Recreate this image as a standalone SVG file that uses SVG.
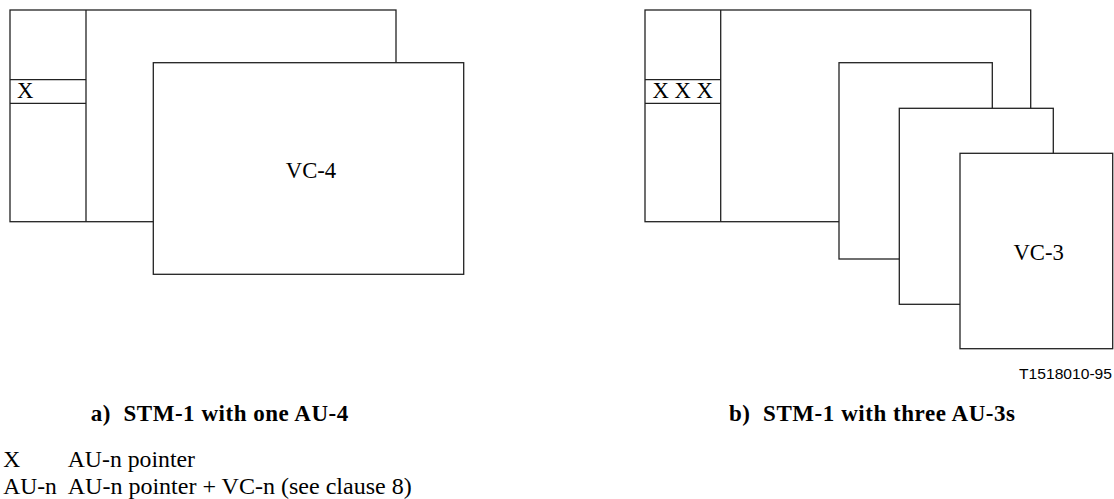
<svg xmlns="http://www.w3.org/2000/svg" width="1114" height="499" viewBox="0 0 1114 499">
<style>
.box{fill:#fff;stroke:#222;stroke-width:1.3}
.ln{fill:none;stroke:#222;stroke-width:1.3}
.t{font-family:"Liberation Serif","Times New Roman",serif;font-size:22.7px;fill:#000}
.lg{font-family:"Liberation Serif","Times New Roman",serif;font-size:23.5px;fill:#000}
.cap{font-family:"Liberation Serif","Times New Roman",serif;font-size:23px;font-weight:bold;fill:#000}
.ref{font-family:"Liberation Sans",Arial,sans-serif;font-size:15px;fill:#000}
</style>
<rect width="1114" height="499" fill="#fff"/>
<g id="stm1-a">
<rect class="box" x="10" y="10" width="386" height="211.7"/>
<line class="ln" x1="86" y1="10" x2="86" y2="221.7"/>
<line class="ln" x1="10" y1="79.7" x2="86" y2="79.7"/>
<line class="ln" x1="10" y1="103.3" x2="86" y2="103.3"/>
<text class="t" x="17" y="97.7">X</text>
</g>
<g id="vc4">
<rect class="box" x="153.3" y="62.7" width="310.4" height="211.6"/>
<text class="t" x="311" y="177.7" text-anchor="middle">VC-4</text>
</g>
<g id="stm1-b">
<rect class="box" x="645" y="10" width="385.7" height="211.7"/>
<line class="ln" x1="720.7" y1="10" x2="720.7" y2="221.7"/>
<line class="ln" x1="645" y1="79.7" x2="720.7" y2="79.7"/>
<line class="ln" x1="645" y1="103.3" x2="720.7" y2="103.3"/>
<text class="t" x="652.5" y="97.7">X X X</text>
</g>
<g id="vc3-1">
<rect class="box" x="839" y="62.7" width="153.3" height="196.3"/>
</g>
<g id="vc3-2">
<rect class="box" x="899.3" y="108.3" width="154" height="196"/>
</g>
<g id="vc3-3">
<rect class="box" x="960" y="153.3" width="152.7" height="195.4"/>
<text class="t" x="1038.7" y="260" text-anchor="middle">VC-3</text>
</g>
<g id="connectors"></g>
<g id="labels">
<text class="ref" x="1019" y="379" textLength="93" lengthAdjust="spacingAndGlyphs">T1518010-95</text>
<text class="cap" x="90.7" y="420.7" textLength="257.6" lengthAdjust="spacing" xml:space="preserve">a)  STM-1 with one AU-4</text>
<text class="cap" x="729" y="420.7" textLength="286" lengthAdjust="spacing" xml:space="preserve">b)  STM-1 with three AU-3s</text>
<text class="lg" x="3.3" y="467">X</text>
<text class="lg" x="67.7" y="467" textLength="127.3" lengthAdjust="spacingAndGlyphs">AU-n pointer</text>
<text class="lg" x="3.3" y="494">AU-n</text>
<text class="lg" x="67.7" y="494" textLength="344" lengthAdjust="spacingAndGlyphs">AU-n pointer + VC-n (see clause 8)</text>
</g>
</svg>
